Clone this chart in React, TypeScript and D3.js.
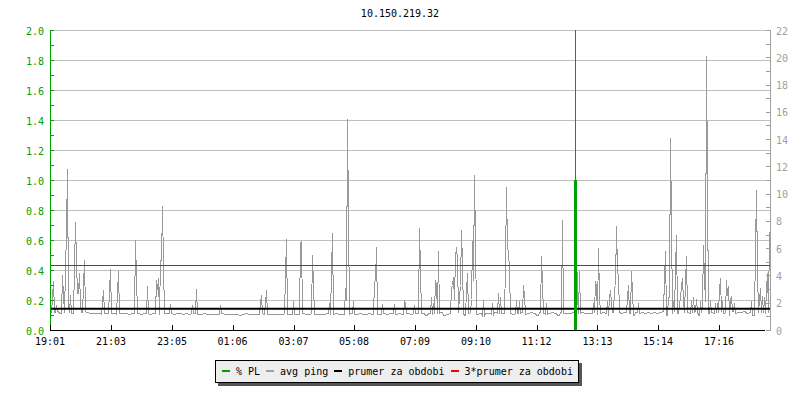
import React from 'react';
import * as d3 from 'd3';

const chartTitle = '10.150.219.32';

// x axis: minutes from 19:01
const xTickMinutes = [0, 122, 244, 365, 487, 608, 730, 852, 973, 1095, 1216, 1338];
const xTickLabels = ['19:01', '21:03', '23:05', '01:06', '03:07', '05:08', '07:09', '09:10', '11:12', '13:13', '15:14', '17:16'];

// left axis (% PL)
const plTicks = [0, 0.2, 0.4, 0.6, 0.8, 1.0, 1.2, 1.4, 1.6, 1.8, 2.0];
const plTickLabels = ['0.0', '0.2', '0.4', '0.6', '0.8', '1.0', '1.2', '1.4', '1.6', '1.8', '2.0'];
const plMinorTicks = [0.1, 0.3, 0.5, 0.7, 0.9, 1.1, 1.3, 1.5, 1.7, 1.9];

// right axis (avg ping)
const pingTicks = [0, 2, 4, 6, 8, 10, 12, 14, 16, 18, 20, 22];
const pingMinorTicks = [1, 3, 5, 7, 9, 11, 13, 15, 17, 19, 21];

// avg ping baseline, one value per 6 minutes
const pingBase = [
  1.35, 1.30, 1.38, 1.28, 1.33, 1.36, 1.30, 1.27, 1.34, 1.31, 1.29, 1.36, 1.32, 1.25, 1.22, 1.28, 1.24, 1.20, 1.26, 1.23,
  1.21, 1.25, 1.19, 1.24, 1.22, 1.27, 1.20, 1.23, 1.26, 1.21, 1.18, 1.24, 1.22, 1.19, 1.25, 1.23, 1.20, 1.22, 1.26, 1.21,
  1.24, 1.19, 1.22, 1.25, 1.20, 1.23, 1.18, 1.21, 1.24, 1.20, 1.17, 1.22, 1.19, 1.15, 1.20, 1.18, 1.16, 1.21, 1.17, 1.19,
  1.15, 1.20, 1.17, 1.13, 1.18, 1.21, 1.16, 1.19, 1.14, 1.18, 1.22, 1.17, 1.15, 1.19, 1.16, 1.20, 1.14, 1.18, 1.21, 1.17,
  1.19, 1.15, 1.20, 1.17, 1.22, 1.16, 1.19, 1.23, 1.18, 1.15, 1.20, 1.17, 1.21, 1.16, 1.19, 1.22, 1.18, 1.20, 1.15, 1.19,
  1.22, 1.17, 1.20, 1.24, 1.19, 1.16, 1.21, 1.18, 1.23, 1.20, 1.17, 1.22, 1.19, 1.25, 1.21, 1.18, 1.23, 1.20, 1.26, 1.22,
  1.19, 1.24, 1.28, 1.21, 1.26, 1.10, 1.23, 1.18, 1.27, 1.22, 1.31, 1.08, 1.20, 1.28, 1.24, 1.17, 1.29, 1.23, 1.12, 1.21,
  1.30, 1.24, 1.19, 1.27, 1.09, 1.22, 1.26, 1.18, 1.29, 1.25, 1.21, 1.28, 1.11, 1.24, 1.19, 1.27, 1.23, 1.30, 1.20, 1.26,
  1.29, 1.22, 1.10, 1.31, 1.25, 1.20, 1.28, 1.35, 1.23, 1.08, 1.30, 1.26, 1.21, 1.27, 1.32, 1.18, 1.25, 1.29, 1.22, 1.27,
  1.24, 1.31, 1.20, 1.28, 1.34, 1.25, 1.12, 1.30, 1.27, 1.36, 1.23, 1.29, 1.33, 1.26, 1.10, 1.31, 1.28, 1.35, 1.24, 1.30,
  1.27, 1.33, 1.22, 1.30, 1.36, 1.09, 1.31, 1.28, 1.38, 1.24, 1.32, 1.29, 1.35, 1.23, 1.30, 1.37, 1.11, 1.33, 1.29, 1.25,
  1.34, 1.28, 1.31, 1.38, 1.26, 1.32, 1.10, 1.36, 1.24, 1.33, 1.30, 1.37, 1.27, 1.34, 1.09, 1.28, 1.35, 1.30, 1.26, 1.33,
];

// avg ping spikes: [minute, ms]
const pingSpikes: [number, number][] = [
  [4, 2.4], [6, 3.6], [12, 1.8], [24, 4.0], [26, 2.6], [30, 4.4], [32, 7.3], [34, 11.8], [36, 2.0], [40, 2.6],
  [48, 4.6], [50, 7.9], [52, 5.1], [54, 2.7], [56, 2.7], [58, 4.2], [60, 2.0], [66, 3.2], [68, 5.1],
  [104, 2.1], [106, 2.9], [118, 2.9], [120, 4.5], [134, 2.8], [136, 4.3], [170, 6.6], [172, 3.9], [194, 3.2],
  [212, 3.7], [214, 3.0], [216, 3.8], [220, 5.1], [222, 5.1], [224, 9.1], [226, 4.8], [240, 1.9], [284, 1.8],
  [292, 3.0], [340, 1.8],
  [420, 2.0], [422, 2.6], [430, 2.0], [432, 2.9], [470, 4.0], [472, 6.7], [486, 2.1], [500, 6.4], [502, 6.5],
  [524, 5.5], [526, 3.3], [558, 2.0], [562, 4.2], [564, 7.1], [590, 3.1], [592, 2.2], [594, 15.5], [596, 8.3],
  [606, 2.1], [648, 3.6], [650, 3.7], [652, 6.1], [664, 1.9], [688, 1.9], [708, 2.1], [710, 2.0], [728, 1.8],
  [738, 7.5], [740, 4.4],
  [762, 2.4], [766, 2.0], [770, 3.7], [772, 3.4], [776, 5.8], [802, 3.1], [804, 3.3], [806, 3.9], [808, 2.3],
  [810, 5.4], [812, 6.1], [814, 5.1], [818, 2.5], [820, 3.3], [822, 7.3], [824, 4.8], [832, 2.9], [834, 4.2],
  [842, 2.3], [844, 6.5], [846, 3.7], [848, 11.4], [850, 6.5], [866, 2.2], [884, 2.0], [896, 2.7], [900, 2.4],
  [910, 4.8], [912, 10.5], [914, 6.0], [916, 5.8], [918, 4.4], [932, 2.2], [938, 2.1], [946, 3.3], [948, 2.6],
  [982, 5.4], [984, 3.4], [992, 2.0], [1024, 8.1], [1050, 11.4], [1052, 6.3], [1054, 2.5], [1058, 4.3],
  [1086, 2.0], [1090, 3.6], [1092, 3.2], [1096, 6.0], [1098, 2.5], [1114, 2.1], [1118, 2.4], [1120, 2.9],
  [1122, 2.0], [1128, 3.1], [1130, 3.3], [1132, 7.6], [1134, 4.4], [1136, 3.9], [1154, 2.4], [1156, 3.3],
  [1162, 4.3], [1164, 2.8], [1176, 2.0], [1228, 3.8], [1230, 5.8], [1236, 2.4], [1238, 2.4], [1240, 14.1],
  [1242, 8.0], [1246, 2.1], [1250, 4.4], [1252, 7.0], [1258, 1.9], [1260, 2.4], [1262, 3.2], [1264, 3.8],
  [1266, 2.1], [1270, 3.5], [1272, 5.4], [1282, 2.2], [1286, 2.4], [1292, 2.3], [1300, 2.1], [1304, 1.9],
  [1306, 6.2], [1308, 3.8], [1310, 2.1], [1312, 20.1], [1314, 10.6], [1320, 2.2], [1330, 2.0], [1334, 2.0],
  [1338, 3.0], [1340, 3.8], [1344, 2.1], [1352, 3.7], [1354, 2.6], [1356, 3.2], [1360, 2.2], [1362, 2.5],
  [1368, 2.0], [1402, 2.1], [1410, 6.0], [1412, 10.3], [1414, 4.4], [1418, 2.2], [1420, 3.1], [1424, 2.5],
  [1428, 2.4], [1432, 3.0], [1434, 4.2], [1438, 7.2],
];

const pingAverage = 1.55;
const pingAverageTriple = 4.73;

// packet loss events
const plEventMinutes = [1050];
const plEventValues = [1.0];
const plEventPeaks = [2.0];

const legendLabels = ['% PL', 'avg ping', 'prumer za obdobi', '3*prumer za obdobi'];
const legendColors = ['#00a000', '#a0a0a0', '#000000', '#ff0000'];

const W = 800;
const H = 400;
const M = { left: 50, right: 770, top: 30, bottom: 330 };
const FONT = '"DejaVu Sans Mono", monospace';
const GREEN = '#00a000';
const GRAY = '#999999';

export default function App() {
  const x = d3.scaleLinear().domain([0, 1440]).range([M.left, M.right]);
  const yL = d3.scaleLinear().domain([0, 2]).range([M.bottom, M.top]);
  const yR = d3.scaleLinear().domain([0, 22]).range([M.bottom, M.top]);

  const spikeMap = new Map<number, number>(pingSpikes.map((d) => [d[0], d[1]]));
  const series: { m: number; v: number }[] = [];
  for (let m = 0; m < 1440; m += 2) {
    const v = spikeMap.has(m) ? (spikeMap.get(m) as number) : pingBase[Math.floor(m / 6)];
    series.push({ m, v });
  }
  const pingLine = d3
    .line<{ m: number; v: number }>()
    .x((d) => x(d.m) + 0.5)
    .y((d) => Math.round(yR(d.v)) + 0.5)(series) as string;

  // legend layout
  const charW = 6.02;
  let lx = 222;
  const legendItems = legendLabels.map((label, i) => {
    const item = { label, color: legendColors[i], sx: lx, tx: lx + 14 };
    lx = item.tx + label.length * charW + 6;
    return item;
  });

  return (
    <svg
      width={W}
      height={H}
      style={{ position: 'absolute', left: 0, top: 0, background: '#fff' }}
      fontFamily={FONT}
      fontSize={10}
    >
      <rect x={0} y={0} width={W} height={H} fill="#fff" />
      <text x={400} y={17} textAnchor="middle" fill="#000">{chartTitle}</text>

      {/* grid */}
      <g shapeRendering="crispEdges">
        {plTicks.filter((t) => t > 0).map((t) => (
          <line key={'g' + t} x1={M.left} x2={M.right} y1={Math.round(yL(t)) + 0.5} y2={Math.round(yL(t)) + 0.5} stroke="#c0c0c0" />
        ))}
      </g>

      {/* avg ping */}
      <defs>
        <clipPath id="plot">
          <rect x={M.left} y={M.top} width={M.right - M.left + 1} height={M.bottom - M.top} />
        </clipPath>
      </defs>
      <g clipPath="url(#plot)">
        <path d={pingLine} fill="none" stroke={GRAY} strokeWidth={1} shapeRendering="crispEdges" />
      </g>

      {/* average lines */}
      <line x1={M.left} x2={M.right} y1={yR(pingAverage)} y2={yR(pingAverage)} stroke="#000" strokeWidth={2} />
      <line x1={M.left} x2={M.right} y1={Math.round(yR(pingAverageTriple)) + 0.5} y2={Math.round(yR(pingAverageTriple)) + 0.5} stroke="#ff0000" strokeWidth={1} shapeRendering="crispEdges" />

      {/* packet loss */}
      {plEventMinutes.map((m, i) => (
        <g key={'pl' + i} shapeRendering="crispEdges">
          <line x1={x(m) + 0.5} x2={x(m) + 0.5} y1={yL(plEventValues[i])} y2={yL(Math.min(plEventPeaks[i], 2))} stroke={GREEN} strokeWidth={1} />
          <line x1={x(m) + 0.5} x2={x(m) + 0.5} y1={yL(0)} y2={yL(plEventValues[i])} stroke={GREEN} strokeWidth={3} />
        </g>
      ))}

      {/* left axis */}
      <g shapeRendering="crispEdges">
        <line x1={M.left + 0.5} x2={M.left + 0.5} y1={M.top} y2={M.bottom - 5} stroke={GREEN} />
        {plTicks.map((t) => (
          <line key={'lt' + t} x1={M.left} x2={M.left + 4} y1={Math.round(yL(t)) + 0.5} y2={Math.round(yL(t)) + 0.5} stroke={GREEN} />
        ))}
        {plMinorTicks.map((t) => (
          <line key={'lm' + t} x1={M.left} x2={M.left + 4} y1={Math.round(yL(t)) + 0.5} y2={Math.round(yL(t)) + 0.5} stroke={GREEN} />
        ))}
      </g>
      {plTicks.map((t, i) => (
        <text key={'ll' + t} x={44} y={yL(t) + 4.5} textAnchor="end" fill={GREEN}>{plTickLabels[i]}</text>
      ))}

      {/* right axis */}
      <g shapeRendering="crispEdges">
        <line x1={M.right + 0.5} x2={M.right + 0.5} y1={M.top} y2={M.bottom + 1} stroke="#a0a0a0" />
        {pingTicks.concat(pingMinorTicks).map((t) => (
          <line key={'rt' + t} x1={M.right - 4} x2={M.right} y1={Math.round(yR(t)) + 0.5} y2={Math.round(yR(t)) + 0.5} stroke="#a0a0a0" />
        ))}
      </g>
      {pingTicks.map((t) => (
        <text key={'rl' + t} x={776} y={yR(t) + 4.5} fill="#a0a0a0">{String(t)}</text>
      ))}

      {/* x axis */}
      <g shapeRendering="crispEdges">
        <line x1={M.left} x2={M.right - 5} y1={M.bottom + 0.5} y2={M.bottom + 0.5} stroke="#000" />
        {xTickMinutes.map((m) => (
          <line key={'xt' + m} x1={Math.round(x(m)) + 0.5} x2={Math.round(x(m)) + 0.5} y1={M.bottom - 5} y2={M.bottom} stroke="#000" />
        ))}
      </g>
      {xTickMinutes.map((m, i) => (
        <text key={'xl' + m} x={x(m)} y={345} textAnchor="middle" fill="#000">{xTickLabels[i]}</text>
      ))}

      {/* legend */}
      <g>
        <rect x={218} y={363} width={364} height={23} fill="#555" shapeRendering="crispEdges" />
        <rect x={215.5} y={360.5} width={363} height={22} fill="#eeeeee" stroke="#000" shapeRendering="crispEdges" />
        {legendItems.map((it) => (
          <g key={it.label}>
            <rect x={it.sx} y={370} width={8} height={2} fill={it.color} shapeRendering="crispEdges" />
            <text x={it.tx} y={374.5} fill="#000">{it.label}</text>
          </g>
        ))}
      </g>
    </svg>
  );
}
